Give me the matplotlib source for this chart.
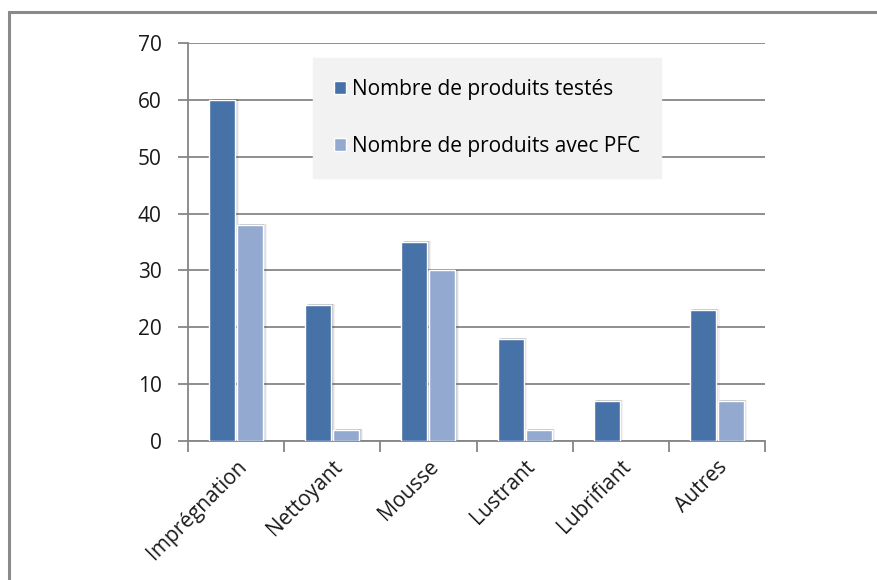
import matplotlib
matplotlib.use("Agg")
import matplotlib.pyplot as plt
from matplotlib.patches import Rectangle
import numpy as np

categories = ["Imprégnation", "Nettoyant", "Mousse", "Lustrant", "Lubrifiant", "Autres"]
testes = [60, 24, 35, 18, 7, 23]
avec_pfc = [38, 2, 30, 2, 0, 7]
series_names = ["Nombre de produits testés", "Nombre de produits avec PFC"]
yticks = [0, 10, 20, 30, 40, 50, 60, 70]

dark = "#4672A8"
light = "#93A9D0"
grid_c = "#868686"

plt.rcParams['font.family'] = ['Open Sans', 'DejaVu Sans']

W, H = 877, 580
fig = plt.figure(figsize=(W / 100, H / 100), dpi=100)
fig.patch.set_facecolor("white")

# outer chart frame (left and top edges visible)
fig.add_artist(Rectangle((9 / W, -0.1), 1.2, 1.1 - 12 / H, transform=fig.transFigure,
                         fill=False, edgecolor="#8a8a8a", lw=2.2, zorder=0))

ax = fig.add_axes([188 / W, 1 - 441 / H, (765 - 188) / W, (441 - 43) / H])
ax.set_xlim(0, len(categories))
ax.set_ylim(0, 70)

x = np.arange(len(categories)) + 0.5
bw = 0.27
gap = 0.01

# soft shadows behind the bars
for xs, vals in ((x - bw / 2 - gap, testes), (x + bw / 2 + gap, avec_pfc)):
    vals = np.array(vals, dtype=float)
    for k, a in enumerate([0.12, 0.08, 0.05]):
        off = 0.014 + k * 0.012
        h = np.where(vals > 0, vals + 0.15, 0)
        ax.bar(xs + off, h, width=bw, color="black", alpha=a, lw=0, zorder=2)


def edge_widths(vals):
    return [1.0 if v > 0 else 0 for v in vals]


ax.bar(x - bw / 2 - gap, testes, width=bw, color=dark, edgecolor="white",
       lw=edge_widths(testes), zorder=3, label=series_names[0])
ax.bar(x + bw / 2 + gap, avec_pfc, width=bw, color=light, edgecolor="white",
       lw=edge_widths(avec_pfc), zorder=3, label=series_names[1])

ax.set_yticks(yticks)
ax.set_yticklabels([str(v) for v in yticks], fontsize=15, color="#1a1a1a")
ax.yaxis.grid(True, color=grid_c, lw=1.3)
ax.set_axisbelow(True)

ax.set_xticks(np.arange(len(categories) + 1))
ax.set_xticklabels([])
ax.set_xticks(x, minor=True)
ax.set_xticklabels(categories, minor=True, rotation=45, ha="right", va="top",
                   rotation_mode="anchor", fontsize=15, color="#1a1a1a")
ax.tick_params(axis="x", which="minor", length=0, pad=11)
ax.tick_params(axis="x", which="major", length=8, width=1.3, color=grid_c)
ax.tick_params(axis="y", length=7, width=1.3, color=grid_c, pad=12)

for s in ["top", "right"]:
    ax.spines[s].set_visible(False)
for s in ["left", "bottom"]:
    ax.spines[s].set_color(grid_c)
    ax.spines[s].set_linewidth(1.3)

leg = ax.legend(loc="upper left", bbox_to_anchor=((313 - 188) / (765 - 188), (441 - 58) / (441 - 43)),
                frameon=True, fancybox=False, fontsize=15, handlelength=0.58, handleheight=0.58,
                handletextpad=0.3, labelspacing=1.75, borderpad=1.0, borderaxespad=0)
leg.get_frame().set_facecolor("#F2F2F2")
leg.get_frame().set_edgecolor("#F2F2F2")
leg.get_frame().set_alpha(1)
leg.set_zorder(5)

fig.savefig("out.png", dpi=100)
